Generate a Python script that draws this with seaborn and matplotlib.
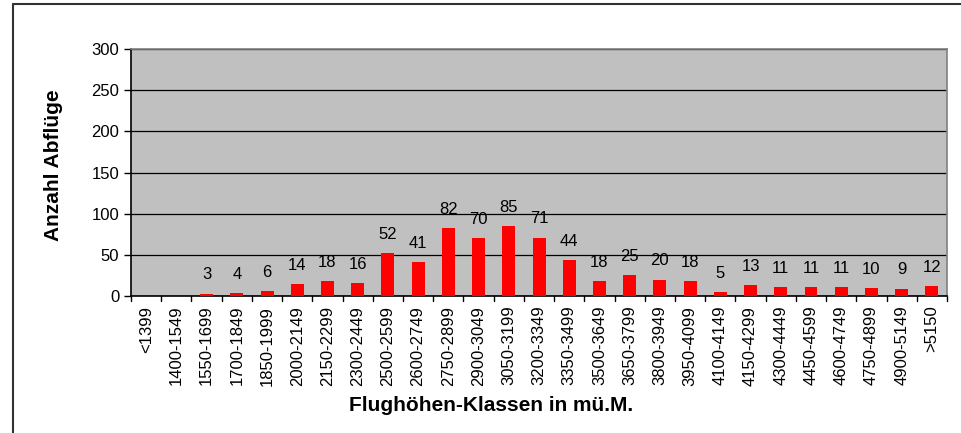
import matplotlib
matplotlib.use("Agg")
import matplotlib.pyplot as plt
from matplotlib.lines import Line2D
import seaborn as sns
import pandas as pd

klassen = ["<1399", "1400-1549", "1550-1699", "1700-1849", "1850-1999",
           "2000-2149", "2150-2299", "2300-2449", "2500-2599", "2600-2749",
           "2750-2899", "2900-3049", "3050-3199", "3200-3349", "3350-3499",
           "3500-3649", "3650-3799", "3800-3949", "3950-4099", "4100-4149",
           "4150-4299", "4300-4449", "4450-4599", "4600-4749", "4750-4899",
           "4900-5149", ">5150"]
anzahl = [0, 0, 3, 4, 6, 14, 18, 16, 52, 41, 82, 70, 85, 71, 44, 18, 25,
          20, 18, 5, 13, 11, 11, 11, 10, 9, 12]
y_ticks = [0, 50, 100, 150, 200, 250, 300]

df = pd.DataFrame({"Klasse": klassen, "Anzahl": anzahl})

sns.set_style("white")
plt.rcParams["font.family"] = ["Liberation Sans", "DejaVu Sans"]
plt.rcParams["text.color"] = "black"
plt.rcParams["axes.labelcolor"] = "black"
plt.rcParams["xtick.color"] = "black"
plt.rcParams["ytick.color"] = "black"

fig = plt.figure(figsize=(9.62, 4.33), dpi=100)
ax = fig.add_axes([0.1362, 0.3164, 0.8482, 0.5704])

sns.barplot(data=df, x="Klasse", y="Anzahl", color="#FF0000", width=0.43,
            saturation=1, ax=ax, zorder=3, edgecolor="none", linewidth=0)

ax.set_facecolor("#C0C0C0")
ax.set_ylim(0, 300)
ax.set_xlim(-0.5, len(klassen) - 0.5)
ax.set_yticks(y_ticks)
ax.yaxis.grid(True, color="black", linewidth=0.9, zorder=0)
ax.set_axisbelow(True)

# data labels (no label for zero bars)
labs = [str(v) if v > 0 else "" for v in anzahl]
ax.bar_label(ax.containers[0], labels=labs, padding=8, fontsize=12)

# x ticks sit on the class boundaries in the original
ax.set_xticks(range(len(klassen)))
ax.set_xticklabels(klassen, rotation=90, fontsize=12)
ax.tick_params(axis="x", length=0, pad=7)
ax.tick_params(axis="y", labelsize=12, length=5, width=1, direction="out", left=True)
for b in range(len(klassen) + 1):
    ax.plot([b - 0.5, b - 0.5], [0, -0.022], color="black", lw=1,
            transform=ax.get_xaxis_transform(), clip_on=False)

for s in ["left", "bottom"]:
    ax.spines[s].set_color("black")
    ax.spines[s].set_linewidth(1.2)
for s in ["top", "right"]:
    ax.spines[s].set_color("#808080")
    ax.spines[s].set_linewidth(1.2)

ax.set_xlabel("Flughöhen-Klassen in mü.M.", fontsize=15, fontweight="bold")
ax.set_ylabel("Anzahl Abflüge", fontsize=15, fontweight="bold")
ax.xaxis.set_label_coords(0.441, -0.405)
ax.yaxis.set_label_coords(-0.083, 0.53)

# outer chart frame
fig.add_artist(Line2D([13 / 962, 13 / 962], [0, 1 - 4 / 433], color="#333333", lw=1.5))
fig.add_artist(Line2D([13 / 962, 1], [1 - 4 / 433, 1 - 4 / 433], color="#333333", lw=1.5))

fig.savefig("out.png", dpi=100)
